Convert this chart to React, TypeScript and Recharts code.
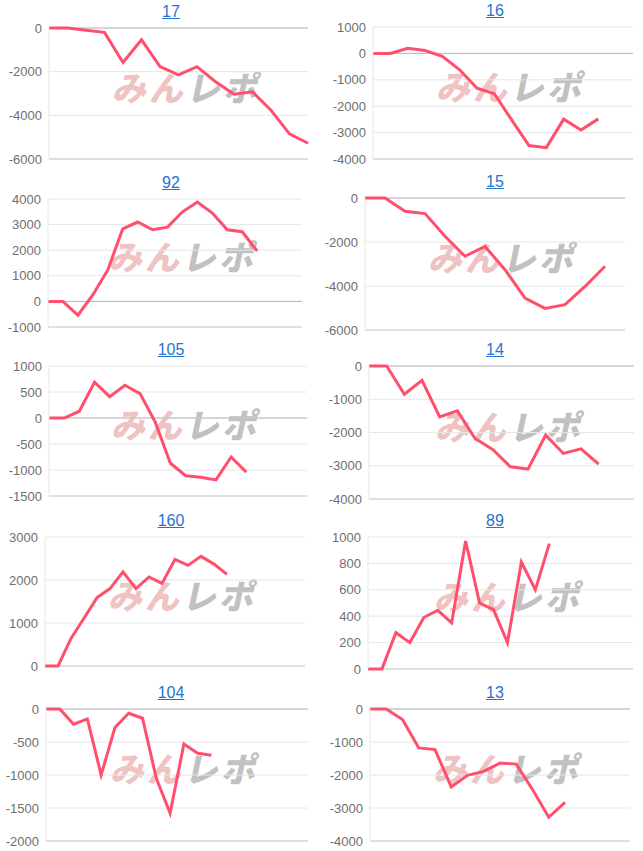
import React from "react";
import { CartesianGrid, Line, LineChart, ReferenceLine, XAxis, YAxis } from "recharts";

// Values per machine; each chart has its own number of x slots
const titles = ["17", "16", "92", "15", "105", "14", "160", "89", "104", "13"];

const values17 = [0, 0, -100, -200, -1580, -540, -1770, -2150, -1770, -2460, -3030, -2920, -3770, -4850, -5280];
const values16 = [0, 0, 190, 110, -110, -620, -1320, -1530, -2520, -3490, -3570, -2490, -2900, -2480];
const values92 = [0, 0, -540, 250, 1230, 2830, 3100, 2800, 2900, 3500, 3880, 3450, 2800, 2720, 1970];
const values15 = [0, 0, -600, -710, -1740, -2650, -2200, -3260, -4550, -5020, -4850, -4020, -3100];
const values105 = [0, 0, 130, 690, 410, 630, 470, -80, -870, -1110, -1140, -1190, -750, -1040];
const values14 = [0, 0, -850, -430, -1530, -1350, -2180, -2510, -3030, -3100, -2080, -2630, -2490, -2950];
const values160 = [0, 0, 640, 1110, 1590, 1800, 2190, 1800, 2070, 1920, 2480, 2340, 2550, 2370, 2130];
const values89 = [0, 0, 275, 200, 390, 445, 350, 970, 500, 450, 200, 810, 600, 950];
const values104 = [0, 0, -230, -150, -1000, -280, -65, -140, -1050, -1580, -530, -670, -700];
const values13 = [0, 0, -320, -1180, -1230, -2360, -2010, -1890, -1640, -1670, -2440, -3280, -2830];

const slotCounts = [15, 16, 18, 14, 18, 16, 21, 20, 20, 17];

const ticks17 = [-6000, -4000, -2000, 0];
const ticks16 = [-4000, -3000, -2000, -1000, 0, 1000];
const ticks92 = [-1000, 0, 1000, 2000, 3000, 4000];
const ticks15 = [-6000, -4000, -2000, 0];
const ticks105 = [-1500, -1000, -500, 0, 500, 1000];
const ticks14 = [-4000, -3000, -2000, -1000, 0];
const ticks160 = [0, 1000, 2000, 3000];
const ticks89 = [0, 200, 400, 600, 800, 1000];
const ticks104 = [-2000, -1500, -1000, -500, 0];
const ticks13 = [-4000, -3000, -2000, -1000, 0];

const allValues = [values17, values16, values92, values15, values105, values14, values160, values89, values104, values13];
const allTicks = [ticks17, ticks16, ticks92, ticks15, ticks105, ticks14, ticks160, ticks89, ticks104, ticks13];

// plot box of each panel in page pixels: [left, right, top, bottom]
const plotBoxes = [
  [49, 308, 28, 159],
  [373, 633, 27, 159],
  [48, 302, 199, 327],
  [365, 625, 198, 330],
  [49, 307, 366, 496],
  [369, 634, 366, 499],
  [45, 305, 537, 666],
  [368, 633, 537, 669],
  [46, 308, 709, 841],
  [370, 630, 709, 841],
];

const LINE_COLOR = "#ff4f6c";
const TICK_COLOR = "#6f6f6f";
const FONT = "'Liberation Sans', Arial, sans-serif";

function Panel({ index }: { index: number }) {
  const [left, right, top, bottom] = plotBoxes[index];
  const panelX = index % 2 === 0 ? 0 : 320;
  const ticks = allTicks[index];
  const values = allValues[index];
  const slots = slotCounts[index];
  const data = Array.from({ length: slots }, (_, i) => ({
    i,
    v: i < values.length ? values[i] : null,
  }));
  const min = ticks[0];
  const max = ticks[ticks.length - 1];
  const titleX = panelX === 0 ? 171 : 495;
  const cx = (left + right) / 2 + 10;
  const cy = (top + bottom) / 2 - 7;

  return (
    <>
      <div
        style={{
          position: "absolute",
          left: cx - 90,
          width: 180,
          top: cy - 18,
          height: 36,
          textAlign: "center",
          transform: "skewX(-12deg)",
          fontFamily: "'Noto Sans CJK JP', sans-serif",
          fontWeight: 900,
          fontSize: 34,
          letterSpacing: 3,
          whiteSpace: "nowrap",
          lineHeight: "36px",
        }}
      >
        <span style={{ color: "rgba(222, 120, 120, 0.45)" }}>みん</span>
        <span style={{ color: "rgba(140, 140, 140, 0.55)" }}>レポ</span>
      </div>
      <div style={{ position: "absolute", left: panelX, top: top - 8 }}>
        <LineChart
          width={right - panelX + 4}
          height={bottom - top + 16}
          data={data}
          margin={{ top: 8, right: 4, bottom: 8, left: 0 }}
        >
          <CartesianGrid vertical={false} stroke="#e6e6e6" />
          <XAxis type="number" dataKey="i" domain={[0, slots - 1]} hide />
          <YAxis
            width={left - panelX}
            domain={[min, max]}
            ticks={ticks}
            interval={0}
            tickLine={false}
            tickMargin={1}
            axisLine={{ stroke: "#e6e6e6" }}
            tick={{ fill: TICK_COLOR, fontSize: 13, fontFamily: FONT }}
          />
          <ReferenceLine y={min} stroke="#cccccc" />
          {min !== 0 && <ReferenceLine y={0} stroke="#b8b8b8" />}
          <Line
            type="linear"
            dataKey="v"
            stroke={LINE_COLOR}
            strokeWidth={3}
            dot={false}
            activeDot={false}
            connectNulls={false}
            isAnimationActive={false}
          />
        </LineChart>
      </div>
      <div
        style={{
          position: "absolute",
          left: titleX - 40,
          width: 80,
          textAlign: "center",
          top: top - 25,
          fontFamily: FONT,
          fontSize: 16,
          lineHeight: "18px",
          color: "#1f74d6",
        }}
      >
        <span style={{ textDecoration: "underline" }}>{titles[index]}</span>
      </div>
    </>
  );
}

export default function App() {
  return (
    <div style={{ position: "absolute", left: 0, top: 0, width: 643, height: 851, background: "#fff", overflow: "hidden" }}>
      {titles.map((_, i) => (
        <Panel key={i} index={i} />
      ))}
    </div>
  );
}
